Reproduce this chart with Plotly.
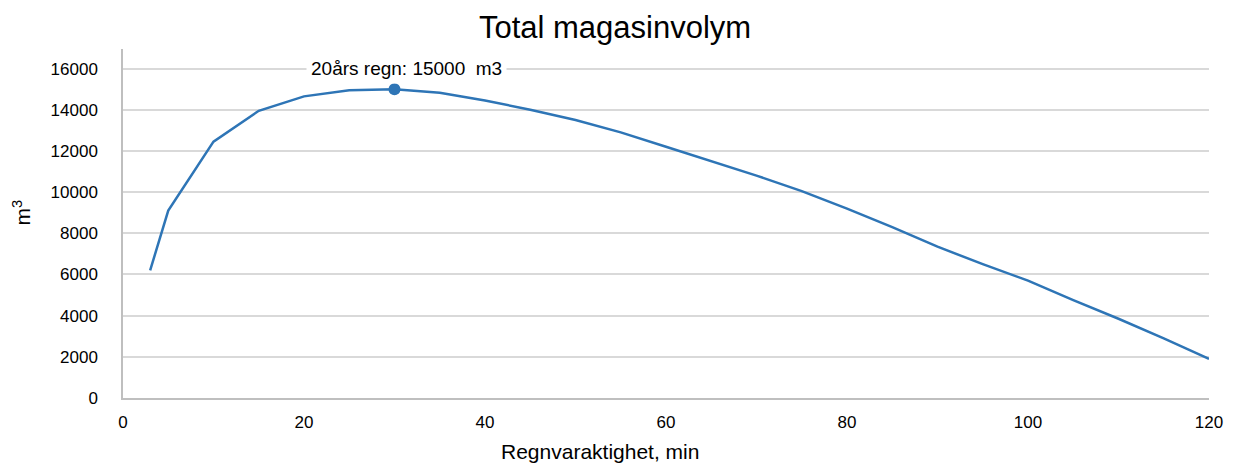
import plotly.graph_objects as go

duration_min = [3, 5, 10, 15, 20, 25, 30, 35, 40, 45, 50, 55, 60, 65, 70, 75, 80, 85, 90, 95, 100, 105, 110, 115, 120]
volume_m3 = [6200, 9100, 12450, 13950, 14650, 14950, 15000, 14820, 14450, 14000, 13500, 12900, 12200, 11500,
             10800, 10050, 9200, 8300, 7350, 6500, 5700, 4750, 3850, 2900, 1900]

peak_x = [30]
peak_y = [15000]
peak_label = "20års regn: 15000  m3"

x_ticks = [0, 20, 40, 60, 80, 100, 120]
y_ticks = [0, 2000, 4000, 6000, 8000, 10000, 12000, 14000, 16000]

color = "#2E75B6"
font = "Liberation Sans, Arial, sans-serif"

# page body has an 8px margin: figure is drawn from (8, 8)
W, H = 1226, 455

fig = go.Figure()
fig.add_trace(go.Scatter(x=duration_min, y=volume_m3, mode="lines",
                         line=dict(color=color, width=2.5), showlegend=False, hoverinfo="x+y"))
fig.add_trace(go.Scatter(x=peak_x, y=peak_y, mode="markers",
                         marker=dict(color=color, size=12), showlegend=False))
fig.add_annotation(x=peak_x[0], y=peak_y[0], text=peak_label, showarrow=False,
                   xanchor="center", yanchor="middle", xshift=12, yshift=21,
                   bgcolor="white", borderpad=4,
                   font=dict(size=19, color="#000000", family=font))
# y-axis title
fig.add_annotation(xref="paper", yref="paper", x=0, y=0.5, text="m<sup>3</sup>", textangle=-90,
                   showarrow=False, xanchor="center", yanchor="middle", xshift=-102, yshift=11,
                   font=dict(size=21, color="#000000", family=font))
# x-axis title
fig.add_annotation(xref="paper", yref="paper", x=(600 - 123) / 1086, y=0, text="Regnvaraktighet, min",
                   showarrow=False, xanchor="center", yanchor="middle", yshift=-53,
                   font=dict(size=21, color="#000000", family=font))

fig.update_layout(
    width=W, height=H,
    margin=dict(l=115, r=25, t=41, b=65),
    paper_bgcolor="white", plot_bgcolor="white",
    font=dict(family=font, color="#000000"),
    title=dict(text="Total magasinvolym", x=(615 - 8) / W, xanchor="center",
               y=1 - 19 / H, yanchor="middle", xref="container", yref="container",
               font=dict(size=31, color="#000000", family=font)),
    xaxis=dict(range=[0, 120], tickvals=x_ticks, showgrid=False, zeroline=False,
               showline=True, linecolor="#BFBFBF", linewidth=1.5, ticks="",
               tickfont=dict(size=17), ticklabelstandoff=8),
    yaxis=dict(range=[0, 16950], tickvals=y_ticks, tickformat="d", showgrid=True,
               gridcolor="#D9D9D9", gridwidth=1.5,
               zeroline=False, showline=True, linecolor="#BFBFBF", linewidth=1.5, ticks="",
               tickfont=dict(size=17), ticklabelstandoff=20),
)

fig.write_html("out.html")
